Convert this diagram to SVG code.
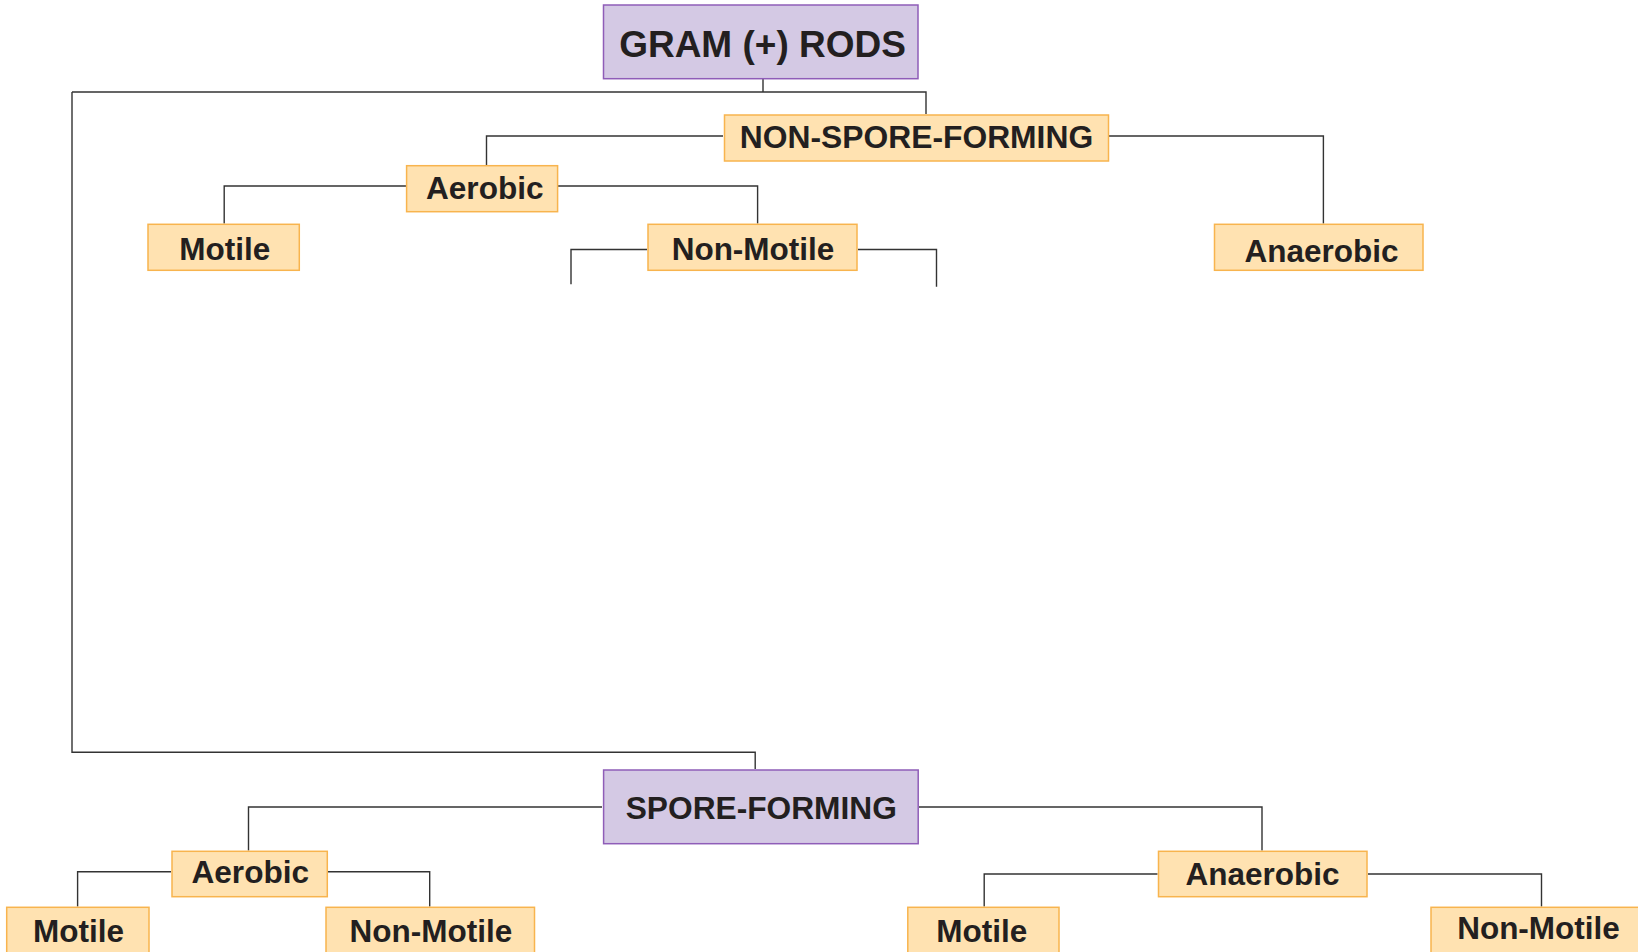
<svg xmlns="http://www.w3.org/2000/svg" width="1638" height="952" viewBox="0 0 1638 952">
<style>
.p{fill:#D4C9E4;stroke:#8F5DB8;stroke-width:1.5}
.o{fill:#FFE2B1;stroke:#F8B44E;stroke-width:1.5}
.t{font-family:"Liberation Sans",Arial,Helvetica,sans-serif;font-weight:bold;fill:#231F20;text-anchor:middle}
.c path{fill:none;stroke:#333;stroke-width:1.4}
</style>
<rect width="1638" height="952" fill="#fff"/>
<g class="c" id="connectors">
<path d="M763,79V92M72,92H926V114M72,92V752.3H755.2V769"/>
<path d="M723,136H486.5V165M1109,136H1323.4V223.5"/>
<path d="M406,186H224.2V223.5M558,186H757.6V223.5"/>
<path d="M647,249.5H571V284.3M858,249.5H936.5V286.7"/>
<path d="M602,807H248.5V850.5M919,807H1262V850.5"/>
<path d="M171,871.7H77.6V906.5M328,871.7H429.7V906.5"/>
<path d="M1157.5,874H984.2V906.5M1368,874H1541.5V906.5"/>
</g>
<g id="gram"><rect class="p" x="603.5" y="5" width="314.5" height="73.7"/><text class="t" x="762.5" y="57.3" font-size="37">GRAM (+) RODS</text></g>
<g id="nonspore"><rect class="o" x="724.5" y="115" width="384" height="46"/><text class="t" x="916.5" y="147.5" font-size="31.8">NON-SPORE-FORMING</text></g>
<g id="ns-aerobic"><rect class="o" x="406.6" y="165.7" width="151" height="46"/><text class="t" x="484.8" y="199" font-size="31.6">Aerobic</text></g>
<g id="ns-anaerobic"><rect class="o" x="1214.5" y="224.3" width="208.5" height="46"/><text class="t" x="1321.5" y="261.7" font-size="31.5">Anaerobic</text></g>
<g id="ns-motile"><rect class="o" x="148" y="224.3" width="151.3" height="46"/><text class="t" x="224.8" y="260" font-size="31.5">Motile</text></g>
<g id="ns-nonmotile"><rect class="o" x="648" y="224.3" width="209" height="46"/><text class="t" x="753" y="259.5" font-size="31.5">Non-Motile</text></g>
<g id="spore"><rect class="p" x="603.6" y="770" width="314.6" height="73.7"/><text class="t" x="761.3" y="819.3" font-size="31.7">SPORE-FORMING</text></g>
<g id="s-aerobic"><rect class="o" x="172" y="851.3" width="155.3" height="45.4"/><text class="t" x="250.3" y="883.3" font-size="31.6">Aerobic</text></g>
<g id="s-anaerobic"><rect class="o" x="1158.5" y="851.3" width="208.5" height="45.4"/><text class="t" x="1262.5" y="885.3" font-size="31.5">Anaerobic</text></g>
<g id="s-aer-motile"><rect class="o" x="6.7" y="907.3" width="142.3" height="50"/><text class="t" x="78.5" y="942" font-size="31.5">Motile</text></g>
<g id="s-aer-nonmotile"><rect class="o" x="326" y="907.3" width="208.5" height="50"/><text class="t" x="430.8" y="942" font-size="31.5">Non-Motile</text></g>
<g id="s-ana-motile"><rect class="o" x="907.8" y="907.3" width="151.2" height="50"/><text class="t" x="981.7" y="942" font-size="31.5">Motile</text></g>
<g id="s-ana-nonmotile"><rect class="o" x="1431" y="907.3" width="210" height="50"/><text class="t" x="1538.5" y="939.3" font-size="31.5">Non-Motile</text></g>
</svg>
